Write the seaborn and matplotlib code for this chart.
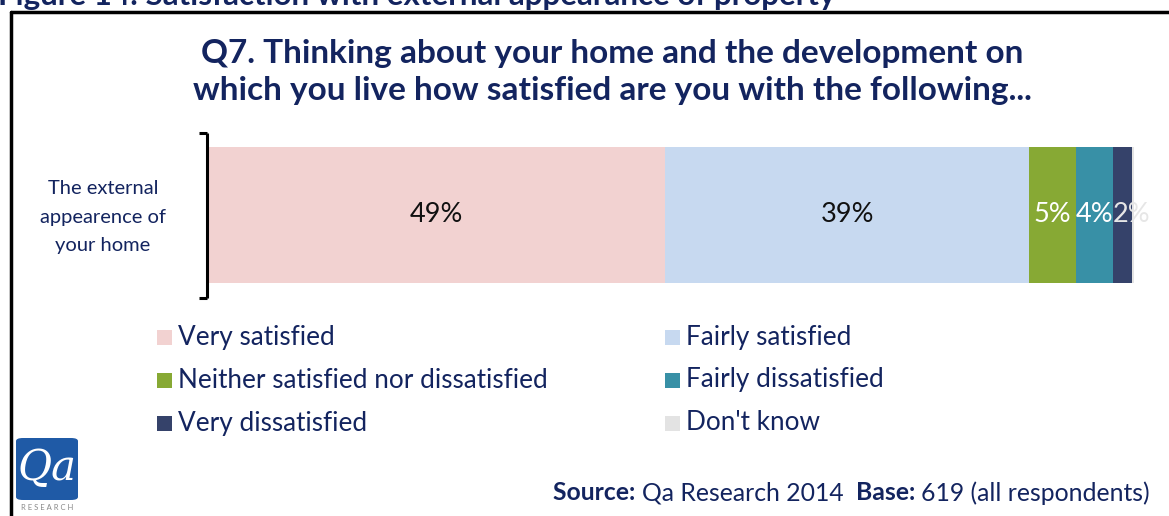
import matplotlib
matplotlib.use("Agg")
import matplotlib.pyplot as plt
from matplotlib.patches import Rectangle, FancyBboxPatch
from matplotlib.lines import Line2D
import numpy as np
import pandas as pd
import seaborn as sns

# Survey responses (percent of respondents)
categories = ["Very satisfied", "Fairly satisfied", "Neither satisfied nor dissatisfied",
              "Fairly dissatisfied", "Very dissatisfied", "Don't know"]
values = [49, 39, 5, 4, 2, 0.3]
value_labels = ["49%", "39%", "5%", "4%", "2%", ""]
item_label = "The external\nappearence of\nyour home"
colors = ["#f2d2d1", "#c7d9f0", "#87a934", "#3890a6", "#35426a", "#e3e3e3"]
label_colors = ["#111111", "#111111", "#ffffff", "#ffffff", "#e6e6e6", "#e6e6e6"]
label_nudge = [0, 0, 0, 0, 1.0, 0]  # shift the small label clear of its neighbour

title = "Q7. Thinking about your home and the development on\nwhich you live how satisfied are you with the following..."
figure_caption = "Figure 14: Satisfaction with external appearance of property"

NAVY = "#13245f"
W, H = 1169, 516

sns.set_theme(style="white")
plt.rcParams["font.family"] = ["Lato", "DejaVu Sans"]

fig = plt.figure(figsize=(W / 100, H / 100), dpi=100)
fig.patch.set_facecolor("white")


def fx(px):
    return px / W


def fy(py):
    return 1 - py / H


# Stacked horizontal bar: draw cumulative totals from the largest down
ax = fig.add_axes([fx(208), fy(283), fx(1141) - fx(208), fy(147) - fy(283)])
cum = np.cumsum(values)
df = pd.DataFrame({"item": ["home"] * len(values), "cum": cum, "cat": categories})
for i in reversed(range(len(values))):
    sns.barplot(data=df.iloc[[i]], x="cum", y="item", color=colors[i], orient="h",
                width=1.0, saturation=1, ax=ax, linewidth=0)
ax.set_xlim(0, 100)
ax.set_ylim(0.5, -0.5)
ax.axis("off")

starts = np.concatenate([[0], cum[:-1]])
for s, v, lab, c, dx in zip(starts, values, value_labels, label_colors, label_nudge):
    if lab:
        ax.text(s + v / 2 + dx, 0.0, lab, ha="center", va="center", fontsize=19.5, color=c)

# Category label and bracket
fig.text(fx(103), fy(217), item_label, ha="center", va="center", fontsize=14.5,
         color=NAVY, linespacing=1.8)
bx, btop, bbot = 206.5, 133, 298
for seg in [((bx, bx), (btop, bbot)), ((199, bx), (btop, btop)), ((199, bx), (bbot, bbot))]:
    fig.add_artist(Line2D([fx(p) for p in seg[0]], [fy(p) for p in seg[1]],
                          color="black", lw=2.2, solid_capstyle="butt"))

# Question title
fig.text(fx(612), fy(72), title, ha="center", va="center", fontsize=24,
         fontweight="bold", color=NAVY, linespacing=1.3)

# Partly visible caption above the frame
fig.text(fx(-2), fy(5.5), figure_caption, ha="left", va="baseline", fontsize=22.5,
         fontweight="bold", color=NAVY)

# Frame
fig.add_artist(Line2D([fx(11), fx(1169)], [fy(12), fy(12)], color="black", lw=2.5))
fig.add_artist(Line2D([fx(11), fx(11)], [fy(12), fy(516)], color="black", lw=2.5))

# Legend
legend_cols = [157, 665]
legend_rows = [337, 380, 423]
for i, (cat, col) in enumerate(zip(categories, colors)):
    x0 = legend_cols[i % 2]
    y0 = legend_rows[i // 2]
    fig.add_artist(Rectangle((fx(x0), fy(y0 + 7.5)), fx(15), 15 / H, facecolor=col,
                             edgecolor="none", transform=fig.transFigure))
    fig.text(fx(x0 + 21), fy(y0), cat, ha="left", va="center", fontsize=18.8, color=NAVY)

# Source line, mixed bold and regular runs laid out left to right
src = [("Source: ", "bold"), ("Qa Research 2014  ", "normal"),
       ("Base: ", "bold"), ("619 (all respondents)", "normal")]
renderer = fig.canvas.get_renderer()
widths = []
runs = []
for s, w in src:
    t = fig.text(0, 0, s, fontsize=17.8, fontweight=w, color=NAVY)
    widths.append(t.get_window_extent(renderer).width)
    runs.append(t)
x = 1150 - sum(widths)
for t, wd in zip(runs, widths):
    t.set_position((fx(x), fy(493)))
    t.set_va("center")
    x += wd

# Logo
fig.add_artist(FancyBboxPatch((fx(16), fy(500)), fx(62), 62 / H,
                              boxstyle="round,pad=0,rounding_size=0.006",
                              facecolor="#1f5aa6", edgecolor="none",
                              transform=fig.transFigure))
fig.text(fx(47), fy(468), "Qa", ha="center", va="center", fontsize=30,
         family="DejaVu Serif", style="italic", color="white")
fig.text(fx(47), fy(508), "R E S E A R C H", ha="center", va="center", fontsize=5.5,
         color="#888888")

fig.savefig("out.png", dpi=100, facecolor="white")
